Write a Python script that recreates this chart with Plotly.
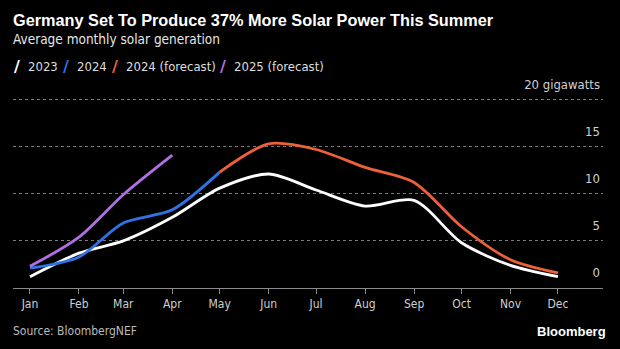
import plotly.graph_objects as go

months = ["2023-01-01", "2023-02-01", "2023-03-01", "2023-04-01", "2023-05-01", "2023-06-01",
          "2023-07-01", "2023-08-01", "2023-09-01", "2023-10-01", "2023-11-01", "2023-12-01"]
month_labels = ["Jan", "Feb", "Mar", "Apr", "May", "Jun", "Jul", "Aug", "Sep", "Oct", "Nov", "Dec"]

gen_2023 = [1.2, 3.7, 5.0, 7.5, 10.6, 12.1, 10.4, 8.7, 9.3, 4.8, 2.4, 1.2]
gen_2024 = [2.1, 3.3, 6.9, 8.3, 12.3]
gen_2024_fc = [12.3, 15.3, 14.7, 12.8, 11.2, 6.5, 3.0, 1.6]
gen_2025_fc = [2.3, 5.4, 9.9, 14.1]

ytick_vals = [0, 5, 10, 15, 20]
ytick_text = ["0", "5", "10", "15", "20 gigawatts"]

series = [
    ("2023", months, gen_2023, "#ffffff"),
    ("2024", months[:5], gen_2024, "#2f74e6"),
    ("2024 (forecast)", months[4:], gen_2024_fc, "#ec6139"),
    ("2025 (forecast)", months[:4], gen_2025_fc, "#b06fe3"),
]

W, H = 620, 349
L, R, B = 13, 17, 61
YMAX = 22.5
T = round(H - B - YMAX * 9.4)
pw = W - L - R
ph = H - T - B

def px(x):
    return (x - L) / pw

def py(y):
    return (H - B - y) / ph

fig = go.Figure()
for name, xs, ys, col in series:
    fig.add_trace(go.Scatter(x=xs, y=ys, name=name, mode="lines",
                             line=dict(color=col, width=2.8, shape="spline", smoothing=0.8),
                             showlegend=False, hoverinfo="skip"))

font_main = "Liberation Sans Narrow, DejaVu Sans Condensed, Arial, sans-serif"
font_bold = "Liberation Sans, Arial, sans-serif"

fig.update_layout(
    width=W, height=H,
    margin=dict(l=L, r=R, t=T, b=B),
    paper_bgcolor="#000000", plot_bgcolor="#000000",
    font=dict(family=font_main, color="#cccccc", size=12),
    xaxis=dict(
        type="date", range=["2022-12-21 06:00", "2023-12-29 12:00"],
        tickvals=months, ticktext=month_labels,
        showgrid=False, zeroline=False,
        showline=True, linecolor="#8a8a8a", linewidth=1,
        ticks="outside", ticklen=5, tickcolor="#8a8a8a", tickwidth=1,
        tickfont=dict(size=12, color="#cfcfcf", family=font_main),
        ticklabeloverflow="allow",
        fixedrange=True,
    ),
    yaxis=dict(
        range=[0, YMAX], side="right",
        tickvals=ytick_vals, ticktext=ytick_text,
        ticklabelposition="inside top",
        ticklabelshift=-6, ticklabeloverflow="allow",
        showgrid=True, gridcolor="#7a7a7a", griddash="dot", gridwidth=1,
        zeroline=False, showline=False, ticks="",
        tickfont=dict(size=13, color="#cfcfcf", family=font_main),
        fixedrange=True,
    ),
)

ann = []
ann.append(dict(text="<b>Germany Set To Produce 37% More Solar Power This Summer</b>",
                x=px(11), y=py(20), xanchor="left", yanchor="middle",
                font=dict(family=font_bold, size=16.3, color="#ffffff")))
ann.append(dict(text="Average monthly solar generation",
                x=px(11), y=py(39), xanchor="left", yanchor="middle",
                font=dict(family=font_main, size=13.5, color="#e6e6e6")))

sym_x = [12, 61, 110, 218]
txt_x = [26, 75, 124, 232]
for (name, xs, ys, col), sx, tx in zip(series, sym_x, txt_x):
    ann.append(dict(text=f"<b>/</b>", x=px(sx), y=py(67), xanchor="left", yanchor="middle",
                    font=dict(family="DejaVu Sans, sans-serif", size=16, color=col)))
    ann.append(dict(text=name, x=px(tx), y=py(67), xanchor="left", yanchor="middle",
                    font=dict(family=font_main, size=13, color="#dddddd")))

ann.append(dict(text="Source: BloombergNEF", x=px(11), y=py(331), xanchor="left", yanchor="middle",
                font=dict(family=font_main, size=12, color="#bbbbbb")))
ann.append(dict(text="<b>Bloomberg</b>", x=px(608), y=py(331), xanchor="right", yanchor="middle",
                font=dict(family=font_bold, size=13, color="#ffffff")))

for a in ann:
    a["xref"] = "paper"
    a["yref"] = "paper"
    a["showarrow"] = False
fig.update_layout(annotations=ann)

fig.write_html("out.html")
